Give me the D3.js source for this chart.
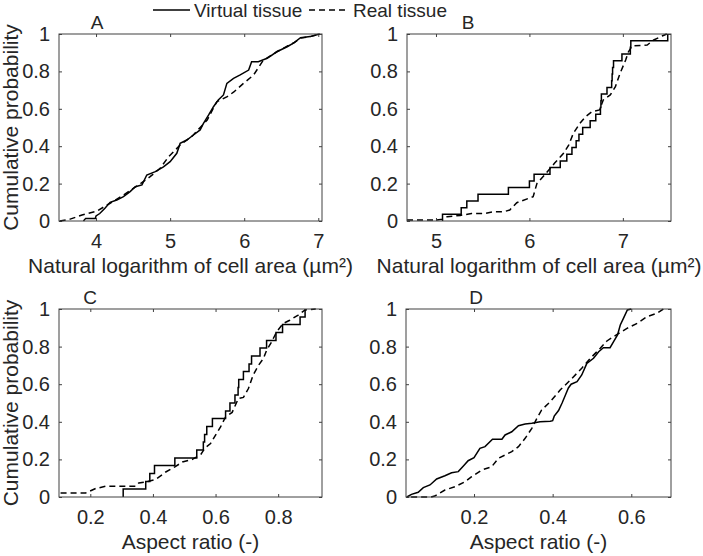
<!DOCTYPE html>
<html>
<head>
<meta charset="utf-8">
<script src="https://cdn.jsdelivr.net/npm/d3@7"></script>
<style>
  html, body { margin: 0; padding: 0; background: #fff; }
  svg { display: block; font-family: "Liberation Sans", Arial, Helvetica, sans-serif; }
</style>
</head>
<body>
<svg id="chart" width="703" height="556"></svg>
<script>
// ---------------- DATA ----------------
const legendLabels = ["Virtual tissue", "Real tissue"];
const panelLetters = ["A", "B", "C", "D"];
const xLabelArea = "Natural logarithm of cell area (\u00b5m\u00b2)";
const xLabelAspect = "Aspect ratio (-)";
const yLabel = "Cumulative probability";

const yTicks = [0, 0.2, 0.4, 0.6, 0.8, 1];
const yTickLabels = ["0", "0.2", "0.4", "0.6", "0.8", "1"];
const xTicksA = [4, 5, 6, 7];
const xTickLabelsA = ["4", "5", "6", "7"];
const xTicksB = [5, 6, 7];
const xTickLabelsB = ["5", "6", "7"];
const xTicksC = [0.2, 0.4, 0.6, 0.8];
const xTickLabelsC = ["0.2", "0.4", "0.6", "0.8"];
const xTicksD = [0.2, 0.4, 0.6];
const xTickLabelsD = ["0.2", "0.4", "0.6"];

// Panel A: ln(cell area)
const aVirtualX = [3.83, 3.86, 3.99, 4.0, 4.05, 4.12, 4.19, 4.28, 4.37, 4.46, 4.53, 4.62, 4.685, 4.8, 4.91, 5.0, 5.09, 5.135, 5.225, 5.315, 5.405, 5.45, 5.52, 5.585, 5.65, 5.72, 5.766, 5.856, 5.946, 6.06, 6.1, 6.19, 6.31, 6.44, 6.58, 6.67, 6.76, 6.89, 6.98, 7.02];
const aVirtualY = [0, 0.014, 0.014, 0.027, 0.04, 0.068, 0.1, 0.112, 0.13, 0.157, 0.183, 0.193, 0.246, 0.264, 0.29, 0.317, 0.362, 0.415, 0.433, 0.46, 0.487, 0.522, 0.567, 0.611, 0.647, 0.674, 0.736, 0.763, 0.781, 0.807, 0.852, 0.852, 0.87, 0.905, 0.932, 0.953, 0.98, 0.986, 0.996, 1.0];
const aRealX = [3.51, 3.65, 3.81, 4.01, 4.19, 4.37, 4.6, 4.73, 4.865, 4.98, 5.135, 5.3, 5.5, 5.63, 5.77, 5.86, 5.99, 6.125, 6.26, 6.31, 6.44, 6.58, 6.67, 6.76, 6.89, 6.98, 7.02];
const aRealY = [0, 0.01, 0.032, 0.053, 0.095, 0.139, 0.2, 0.237, 0.282, 0.344, 0.406, 0.455, 0.54, 0.638, 0.665, 0.69, 0.736, 0.78, 0.861, 0.872, 0.905, 0.935, 0.953, 0.978, 0.986, 0.996, 1.0];

// Panel B: ln(cell area), stair ECDF for virtual tissue
const bVirtualX = [5.07, 5.27, 5.33, 5.45, 5.775, 6.0, 6.05, 6.22, 6.33, 6.40, 6.455, 6.5, 6.53, 6.57, 6.65, 6.71, 6.76, 6.765, 6.77, 6.83, 6.88, 6.885, 6.89, 6.9, 6.99, 7.08, 7.085, 7.48];
const bVirtualY = [0.036, 0.071, 0.107, 0.143, 0.179, 0.214, 0.25, 0.286, 0.321, 0.357, 0.393, 0.429, 0.464, 0.5, 0.536, 0.571, 0.607, 0.643, 0.679, 0.714, 0.75, 0.786, 0.821, 0.857, 0.893, 0.929, 0.964, 1.0];
const bRealX = [4.69, 5.0, 5.07, 5.12, 5.26, 5.38, 5.52, 5.62, 5.73, 5.79, 5.865, 5.99, 6.04, 6.08, 6.17, 6.27, 6.365, 6.42, 6.47, 6.54, 6.6, 6.67, 6.75, 6.79, 6.865, 6.92, 6.97, 7.03, 7.06, 7.1, 7.26, 7.33, 7.42, 7.47];
const bRealY = [0.005, 0.005, 0.01, 0.023, 0.03, 0.04, 0.04, 0.05, 0.05, 0.059, 0.098, 0.121, 0.13, 0.2, 0.25, 0.31, 0.362, 0.406, 0.469, 0.522, 0.558, 0.585, 0.594, 0.647, 0.674, 0.718, 0.79, 0.861, 0.905, 0.936, 0.941, 0.968, 0.989, 1.0];

// Panel C: aspect ratio, stair ECDF for virtual tissue
const cVirtualX = [0.305, 0.377, 0.39, 0.405, 0.47, 0.54, 0.561, 0.565, 0.572, 0.59, 0.632, 0.646, 0.662, 0.672, 0.674, 0.689, 0.707, 0.715, 0.742, 0.763, 0.793, 0.814, 0.87, 0.886];
const cVirtualY = [0.042, 0.083, 0.125, 0.167, 0.208, 0.25, 0.292, 0.333, 0.375, 0.417, 0.458, 0.5, 0.542, 0.583, 0.625, 0.667, 0.708, 0.75, 0.792, 0.833, 0.875, 0.917, 0.958, 1.0];
const cRealX = [0.105, 0.185, 0.217, 0.249, 0.345, 0.355, 0.377, 0.409, 0.441, 0.47, 0.494, 0.526, 0.553, 0.566, 0.584, 0.6, 0.616, 0.632, 0.653, 0.673, 0.689, 0.705, 0.72, 0.737, 0.753, 0.763, 0.779, 0.795, 0.816, 0.837, 0.864, 0.886, 0.92];
const cRealY = [0.021, 0.021, 0.045, 0.057, 0.057, 0.075, 0.08, 0.094, 0.133, 0.16, 0.186, 0.2, 0.227, 0.26, 0.284, 0.329, 0.373, 0.426, 0.45, 0.524, 0.53, 0.577, 0.648, 0.70, 0.737, 0.78, 0.825, 0.878, 0.923, 0.94, 0.968, 0.995, 1.0];

// Panel D: aspect ratio
const dVirtualX = [0.029, 0.041, 0.058, 0.071, 0.088, 0.105, 0.126, 0.143, 0.16, 0.173, 0.185, 0.2, 0.215, 0.228, 0.247, 0.271, 0.279, 0.296, 0.313, 0.33, 0.347, 0.368, 0.394, 0.4, 0.404, 0.415, 0.424, 0.432, 0.44, 0.447, 0.462, 0.474, 0.487, 0.504, 0.517, 0.529, 0.546, 0.555, 0.565, 0.572, 0.58, 0.59, 0.6];
const dVirtualY = [0, 0.014, 0.025, 0.05, 0.064, 0.096, 0.113, 0.129, 0.135, 0.165, 0.193, 0.209, 0.259, 0.268, 0.307, 0.307, 0.33, 0.347, 0.379, 0.388, 0.392, 0.4, 0.403, 0.406, 0.43, 0.46, 0.5, 0.54, 0.58, 0.6, 0.613, 0.649, 0.711, 0.738, 0.773, 0.794, 0.794, 0.826, 0.862, 0.915, 0.95, 0.995, 1.0];
const dRealX = [0.04, 0.09, 0.1, 0.126, 0.152, 0.177, 0.194, 0.22, 0.245, 0.262, 0.296, 0.313, 0.33, 0.347, 0.36, 0.372, 0.394, 0.419, 0.445, 0.474, 0.496, 0.521, 0.538, 0.564, 0.589, 0.615, 0.64, 0.665, 0.682];
const dRealY = [0, 0, 0.005, 0.037, 0.055, 0.081, 0.108, 0.144, 0.161, 0.206, 0.241, 0.268, 0.312, 0.365, 0.419, 0.463, 0.507, 0.569, 0.622, 0.685, 0.738, 0.791, 0.83, 0.865, 0.897, 0.924, 0.959, 0.977, 1.0];

// ---------------- LAYOUT ----------------
const TEXT = "#262626";
const AXIS = "#404040";
const panels = [
  { letter: panelLetters[0], l: 59,  t: 34,  r: 322, b: 221, dom: [3.5, 7.05],   ticks: xTicksA, tickLabels: xTickLabelsA, xlabel: xLabelArea,  letterX: 97,
    virt: [aVirtualX, aVirtualY], real: [aRealX, aRealY], stair: false, showY: true },
  { letter: panelLetters[1], l: 407, t: 34,  r: 671, b: 221, dom: [4.69, 7.515], ticks: xTicksB, tickLabels: xTickLabelsB, xlabel: xLabelArea,  letterX: 468,
    virt: [bVirtualX, bVirtualY], real: [bRealX, bRealY], stair: true, showY: false },
  { letter: panelLetters[2], l: 59,  t: 309, r: 322, b: 497, dom: [0.1, 0.94],   ticks: xTicksC, tickLabels: xTickLabelsC, xlabel: xLabelAspect, letterX: 90,
    virt: [cVirtualX, cVirtualY], real: [cRealX, cRealY], stair: true, showY: true },
  { letter: panelLetters[3], l: 406, t: 309, r: 671, b: 497, dom: [0.027, 0.701], ticks: xTicksD, tickLabels: xTickLabelsD, xlabel: xLabelAspect, letterX: 476,
    virt: [dVirtualX, dVirtualY], real: [dRealX, dRealY], stair: false, showY: false }
];

const svg = d3.select("#chart");
const TICK_FS = 20, LABEL_FS = 21, LEG_FS = 19;

function styleAxis(g) {
  g.select(".domain").remove();
  g.selectAll(".tick line").attr("stroke", AXIS).attr("stroke-width", 1);
  g.selectAll(".tick text").attr("fill", TEXT).attr("font-size", TICK_FS)
    .attr("font-family", '"Liberation Sans", Arial, Helvetica, sans-serif');
}

panels.forEach(p => {
  const x = d3.scaleLinear().domain(p.dom).range([p.l, p.r]);
  const y = d3.scaleLinear().domain([0, 1]).range([p.b, p.t]);
  const g = svg.append("g");

  // Axes (ticks inside, on all four sides)
  g.append("g").attr("transform", `translate(0,${p.b})`)
    .call(d3.axisBottom(x).tickValues(p.ticks).tickFormat((d, i) => p.tickLabels[i]).tickSizeInner(-3).tickSizeOuter(0).tickPadding(13))
    .call(styleAxis);
  g.append("g").attr("transform", `translate(0,${p.t})`)
    .call(d3.axisTop(x).tickValues(p.ticks).tickFormat("").tickSizeInner(-3).tickSizeOuter(0))
    .call(styleAxis);
  g.append("g").attr("transform", `translate(${p.l},0)`)
    .call(d3.axisLeft(y).tickValues(yTicks).tickFormat((d, i) => yTickLabels[i]).tickSizeInner(-3).tickSizeOuter(0).tickPadding(9))
    .call(styleAxis);
  g.append("g").attr("transform", `translate(${p.r},0)`)
    .call(d3.axisRight(y).tickValues(yTicks).tickFormat("").tickSizeInner(-3).tickSizeOuter(0))
    .call(styleAxis);

  // Clip
  const clipId = "clip" + p.letter;
  svg.append("clipPath").attr("id", clipId).append("rect")
    .attr("x", p.l).attr("y", p.t - 1).attr("width", p.r - p.l).attr("height", p.b - p.t + 2);

  // Real tissue (dashed)
  const realPts = p.real[0].map((v, i) => [v, p.real[1][i]]);
  const lineLin = d3.line().x(d => x(d[0])).y(d => y(d[1]));
  g.append("path").datum(realPts)
    .attr("clip-path", `url(#${clipId})`)
    .attr("fill", "none").attr("stroke", "#000").attr("stroke-width", 1.5)
    .attr("stroke-dasharray", "6,4").attr("d", lineLin);

  // Virtual tissue (solid)
  let virtPts = p.virt[0].map((v, i) => [v, p.virt[1][i]]);
  let lineV = lineLin;
  if (p.stair) {
    virtPts = [[p.virt[0][0], 0]].concat(virtPts);
    lineV = d3.line().x(d => x(d[0])).y(d => y(d[1])).curve(d3.curveStepAfter);
  }
  g.append("path").datum(virtPts)
    .attr("clip-path", `url(#${clipId})`)
    .attr("fill", "none").attr("stroke", "#000").attr("stroke-width", 1.5)
    .attr("d", lineV);

  // Box
  g.append("rect").attr("x", p.l).attr("y", p.t).attr("width", p.r - p.l).attr("height", p.b - p.t)
    .attr("fill", "none").attr("stroke", AXIS).attr("stroke-width", 1);

  // Panel letter
  g.append("text").attr("x", p.letterX).attr("y", p.t - 5).attr("text-anchor", "middle")
    .attr("font-size", LEG_FS).attr("fill", TEXT).text(p.letter);

  // X label
  g.append("text").attr("x", (p.l + p.r) / 2).attr("y", p.b + 52).attr("text-anchor", "middle")
    .attr("font-size", LABEL_FS).attr("fill", TEXT).text(p.xlabel);

  // Y label
  if (p.showY) {
    g.append("text").attr("transform", `translate(${18},${(p.t + p.b) / 2}) rotate(-90)`)
      .attr("text-anchor", "middle").attr("font-size", LABEL_FS).attr("fill", TEXT).text(yLabel);
  }
});

// Legend
const leg = svg.append("g");
leg.append("line").attr("x1", 153).attr("x2", 190).attr("y1", 10).attr("y2", 10)
  .attr("stroke", "#000").attr("stroke-width", 1.5);
leg.append("text").attr("x", 194).attr("y", 17).attr("font-size", LEG_FS).attr("fill", TEXT).text(legendLabels[0]);
leg.append("line").attr("x1", 309).attr("x2", 347).attr("y1", 10).attr("y2", 10)
  .attr("stroke", "#000").attr("stroke-width", 1.5).attr("stroke-dasharray", "6,4");
leg.append("text").attr("x", 353).attr("y", 17).attr("font-size", LEG_FS).attr("fill", TEXT).text(legendLabels[1]);
</script>
</body>
</html>
